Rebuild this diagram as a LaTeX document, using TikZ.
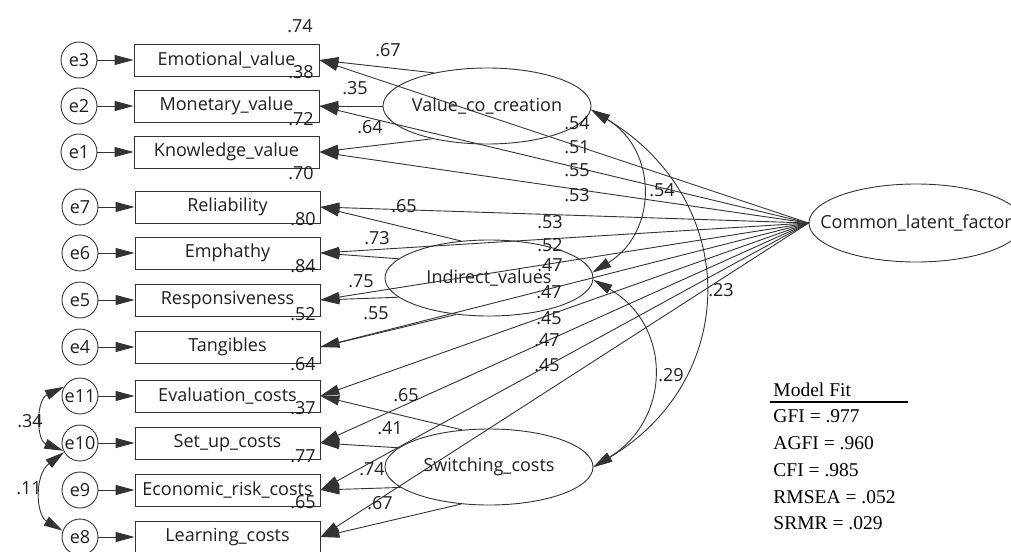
\documentclass[tikz,border=0pt]{standalone}
\usepackage{fontspec}
\setmainfont{Open Sans}
\newfontfamily\fitfont{Liberation Serif}
\usetikzlibrary{arrows.meta,shapes.geometric}
\begin{document}
\begin{tikzpicture}[x=1pt,y=-1pt,
  font=\fontsize{18}{21}\selectfont,
  line width=0.9pt,
  every node/.style={text=black!88},
  box/.style={draw=black!80, rectangle, minimum width=185pt, minimum height=32pt, inner sep=0pt},
  err/.style={draw=black!80, circle, minimum size=36pt, inner sep=0pt},
  lat/.style={draw=black!80, ellipse, minimum width=208pt, minimum height=76pt, inner sep=0pt},
  arr/.style={draw=black!80, -{Triangle[length=19pt,width=10pt]}},
  dbl/.style={draw=black!80, {Triangle[length=19pt,width=10pt]}-{Triangle[length=19pt,width=10pt]}},
  num/.style={inner sep=0pt},
  fittext/.style={font={\fitfont\fontsize{19.5}{22}\selectfont}, anchor=west, inner sep=0pt, text=black}]
\useasboundingbox (0,0) rectangle (1011,551);
\fill[white] (0,0) rectangle (1011,551);
\clip (0,0) rectangle (1011,551);

% error terms
\node[err] (e3) at (79,60) {e3};
\node[err] (e2) at (79,106) {e2};
\node[err] (e1) at (79,152) {e1};
\node[err] (e7) at (80,207) {e7};
\node[err] (e6) at (80,253) {e6};
\node[err] (e5) at (80,300) {e5};
\node[err] (e4) at (80,347) {e4};
\node[err] (e11) at (80,396) {e11};
\node[err] (e10) at (80,443) {e10};
\node[err] (e9) at (80,490) {e9};
\node[err] (e8) at (80,537) {e8};

% observed variables
\node[box] (emo) at (226.5,60) {Emotional\_value};
\node[box] (mon) at (226.5,106) {Monetary\_value};
\node[box] (kno) at (226.5,152) {Knowledge\_value};
\node[box] (rel) at (227.5,207) {Reliability};
\node[box] (emp) at (227.5,253) {Emphathy};
\node[box] (res) at (227.5,300) {Responsiveness};
\node[box] (tan) at (227.5,347) {Tangibles};
\node[box] (eva) at (227.5,396) {Evaluation\_costs};
\node[box] (set) at (227.5,443) {Set\_up\_costs};
\node[box] (eco) at (227.5,490) {Economic\_risk\_costs};
\node[box] (lea) at (227.5,537) {Learning\_costs};

% latent variables
\node[lat] (vcc) at (487,106) {\makebox[0pt]{Value\_co\_creation}};
\node[lat] (ind) at (489,278) {\makebox[0pt]{Indirect\_values}};
\node[lat] (sw) at (489,467) {\makebox[0pt]{Switching\_costs}};
\node[lat, minimum width=214pt, minimum height=78pt] (clf) at (916,223) {\makebox[0pt]{Common\_latent\_factor}};

% error arrows
\foreach \e/\b in {e3/emo,e2/mon,e1/kno,e7/rel,e6/emp,e5/res,e4/tan,e11/eva,e10/set,e9/eco,e8/lea}
  \draw[arr] (\e) -- (\b);

% loadings
\draw[arr] (vcc.148) -- (emo.east);
\draw[arr] (vcc.west) -- (mon.east);
\draw[arr] (vcc.211) -- (kno.east);
\draw[arr] (ind.127) -- (rel.east);
\draw[arr] (ind.168) -- (emp.east);
\draw[arr] (ind.192) -- (res.east);
\draw[arr] (ind.228) -- (tan.east);
\draw[arr] (sw.126) -- (eva.east);
\draw[arr] (sw.168) -- (set.east);
\draw[arr] (sw.193) -- (eco.east);
\draw[arr] (sw.233) -- (lea.east);

\foreach \b in {emo,mon,kno,rel,emp,res,tan,eva,set,eco,lea}
  \draw[arr] (clf.west) -- (\b.east);

% covariances
\draw[dbl] (e11.150) .. controls (36,400) and (36,440) .. (e10.205);
\draw[dbl] (e10.210) .. controls (34,475) and (36,515) .. (e8.160);
\draw[dbl] (vcc.-2) .. controls (658,150) and (658,232) .. (ind.3);
\draw[dbl] (vcc.-2) .. controls (741,200) and (741,379) .. (sw.0);
\draw[dbl] (ind.-1) .. controls (672,325) and (672,419) .. (sw.0);

% squared multiple correlations
\node[num] (r1) at (300,26) {.74};
\node[num] (r2) at (301,72) {.38};
\node[num] (r3) at (301,119) {.72};
\node[num] (r4) at (301,173) {.70};
\node[num] (r5) at (303,219) {.80};
\node[num] (r6) at (303,266) {.84};
\node[num] (r7) at (303,314) {.52};
\node[num] (r8) at (303,364) {.64};
\node[num] (r9) at (303,408) {.37};
\node[num] (r10) at (303,456) {.77};
\node[num] (r11) at (303,502) {.65};

% loading labels
\node[num] (l1) at (388,50) {.67};
\node[num] (l2) at (355,88) {.35};
\node[num] (l3) at (370,127) {.64};
\node[num] (l4) at (404,206) {.65};
\node[num] (l5) at (377,238) {.73};
\node[num] (l6) at (361,281) {.75};
\node[num] (l7) at (376,313) {.55};
\node[num] (l8) at (406,395) {.65};
\node[num] (l9) at (390,428) {.41};
\node[num] (l10) at (372,469) {.74};
\node[num] (l11) at (380,503) {.67};

% common factor labels
\node[num] (c1) at (577,123) {.54};
\node[num] (c2) at (577,147) {.51};
\node[num] (c3) at (577,170) {.55};
\node[num] (c4) at (577,195) {.53};
\node[num] (c5) at (550,222) {.53};
\node[num] (c6) at (550,245) {.52};
\node[num] (c7) at (550,265) {.47};
\node[num] (c8) at (549,292) {.47};
\node[num] (c9) at (549,318) {.45};
\node[num] (c10) at (547,340) {.47};
\node[num] (c11) at (547,365) {.45};

% covariance labels
\node[num] (k1) at (662,190) {.54};
\node[num] (k2) at (721,290) {.23};
\node[num] (k3) at (671,375) {.29};
\node[num] (k4) at (30,421) {.34};
\node[num] (k5) at (29,488) {.11};

% model fit
\node[fittext] (mf) at (773,390) {Model Fit};
\coordinate (ula) at (770,402);
\coordinate (ulb) at (908,402);
\draw[line width=2pt] (ula) -- (ulb);
\node[fittext] (f1) at (773,416) {GFI = .977};
\node[fittext] (f2) at (773,443) {AGFI = .960};
\node[fittext] (f3) at (773,470) {CFI = .985};
\node[fittext] (f4) at (773,497) {RMSEA = .052};
\node[fittext] (f5) at (773,523) {SRMR = .029};
\end{tikzpicture}
\end{document}
